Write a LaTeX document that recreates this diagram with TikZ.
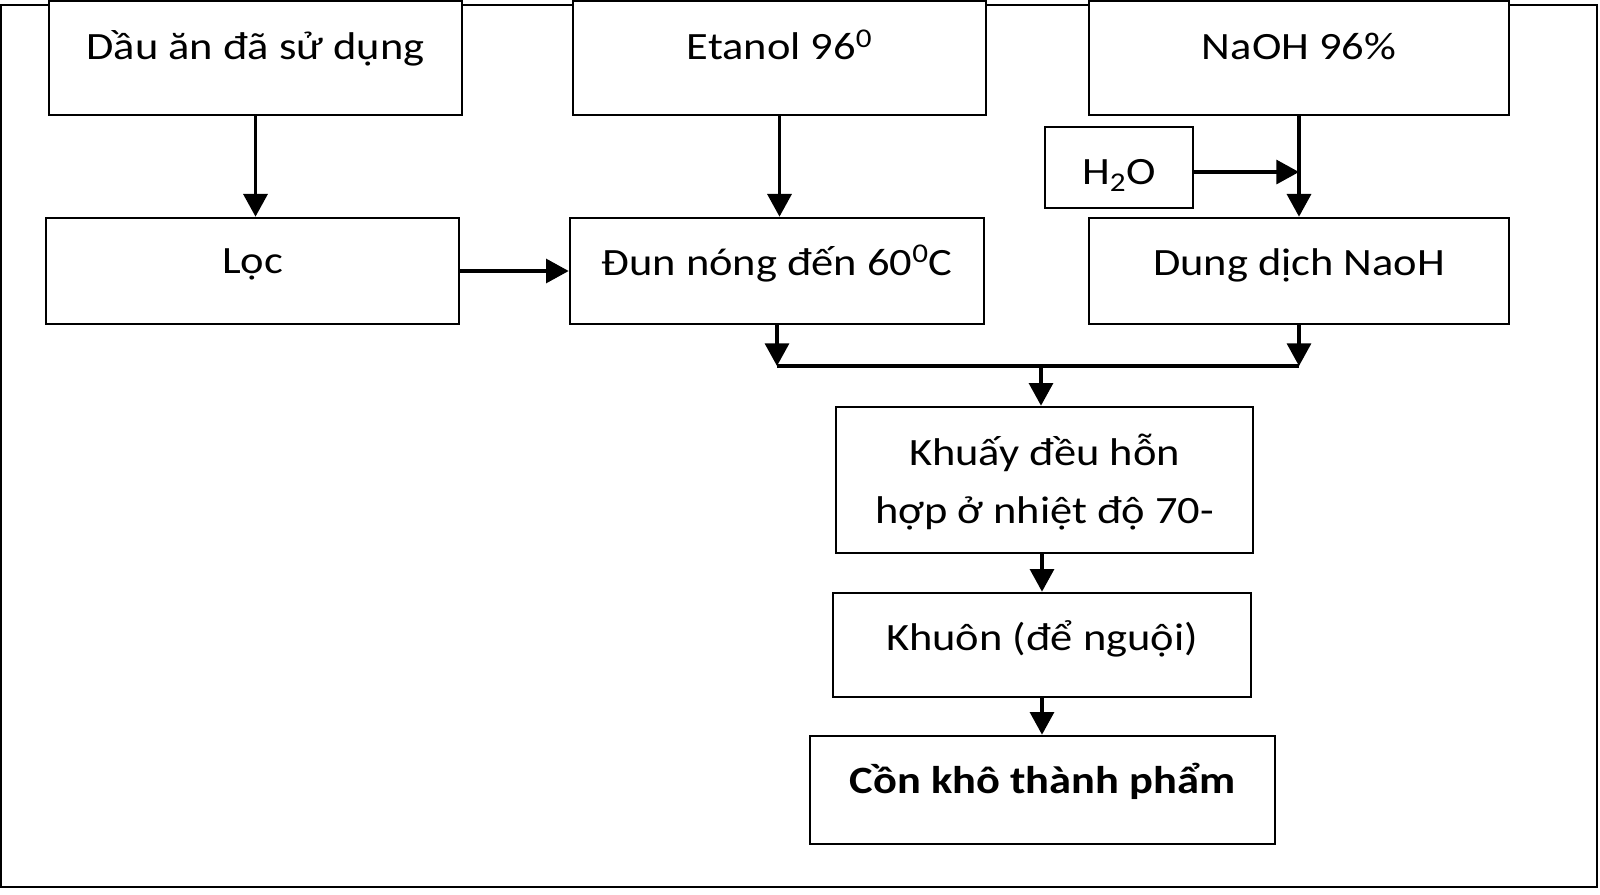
\documentclass[tikz,border=0pt]{standalone}
\usepackage{fontspec}
\setmainfont{Carlito}[FakeStretch=1.15]
\usetikzlibrary{arrows.meta}
\def\pxu{0.75pt}
\begin{document}
\begin{tikzpicture}[x=0.75pt,y=-0.75pt,
  box/.style={draw, line width=2pt, fill=white, inner sep=0pt, align=center,
    font=\fontsize{29}{43.5}\selectfont},
  arr/.style={line width=2.4pt, -{Triangle[length=17pt,width=18pt]}},
  plain/.style={line width=2.4pt}]
\useasboundingbox (0,0) rectangle (1600,895);
\draw[line width=2pt] (1,5) rectangle (1597,887);
% top row
\node[box, minimum width=413*\pxu, minimum height=114*\pxu, text height=59*\pxu, text depth=55*\pxu] (dau) at (255.5,58) {Dầu ăn đã sử dụng};
\node[box, minimum width=413*\pxu, minimum height=114*\pxu, text height=59*\pxu, text depth=55*\pxu] (etanol) at (779.5,58) {Etanol 96\textsuperscript{0}};
\node[box, minimum width=420*\pxu, minimum height=114*\pxu, text height=59*\pxu, text depth=55*\pxu] (naoh) at (1299,58) {NaOH 96\%};
% second row
\node[box, minimum width=413*\pxu, minimum height=106*\pxu, text height=55*\pxu, text depth=51*\pxu] (loc) at (252.5,271) {Lọc};
\node[box, minimum width=414*\pxu, minimum height=106*\pxu, text height=57*\pxu, text depth=49*\pxu] (dun) at (777,271) {Đun nóng đến 60\textsuperscript{0}C};
\node[box, minimum width=420*\pxu, minimum height=106*\pxu, text height=57*\pxu, text depth=49*\pxu] (dd) at (1299,271) {Dung dịch NaoH};
\node[box, minimum width=148*\pxu, minimum height=81*\pxu, text height=58*\pxu, text depth=23*\pxu] (h2o) at (1119,167.5) {H\textsubscript{2}O};
% lower column
\node[box, minimum width=417*\pxu, minimum height=146*\pxu, text height=58*\pxu, text depth=88*\pxu] (khuay) at (1044.5,480) {\begin{tabular}[t]{@{}c@{}}Khuấy đều hỗn\\hợp ở nhiệt độ 70-\end{tabular}};
\node[box, minimum width=418*\pxu, minimum height=104*\pxu, text height=57*\pxu, text depth=47*\pxu] (khuon) at (1042,645) {Khuôn (để nguội)};
\node[box, minimum width=465*\pxu, minimum height=108*\pxu, text height=57*\pxu, text depth=51*\pxu, font=\fontsize{29}{43.5}\selectfont\bfseries] (con) at (1042.5,790) {Cồn khô thành phẩm};
% connectors
\coordinate (m) at (1041,366);
\draw[arr] (dau.south) -- (dau.south |- loc.north);
\draw[arr] (etanol.south) -- (etanol.south |- dun.north);
\draw[arr] (naoh.south) -- (dd.north);
\draw[arr] ([yshift=-3.4pt]h2o.east) -- ([yshift=-3.4pt]h2o.east -| naoh.south);
\draw[arr] (loc.east) -- (loc.east -| dun.west);
\draw[arr] (dun.south) -- (dun.south |- m);
\draw[arr] (dd.south) -- (dd.south |- m);
\draw[plain] (dun.south |- m) -- (dd.south |- m);
\draw[arr] (m) -- (m |- khuay.north);
\draw[arr] (khuon.north |- khuay.south) -- (khuon.north);
\draw[arr] (khuon.south) -- (khuon.south |- con.north);
\end{tikzpicture}
\end{document}
